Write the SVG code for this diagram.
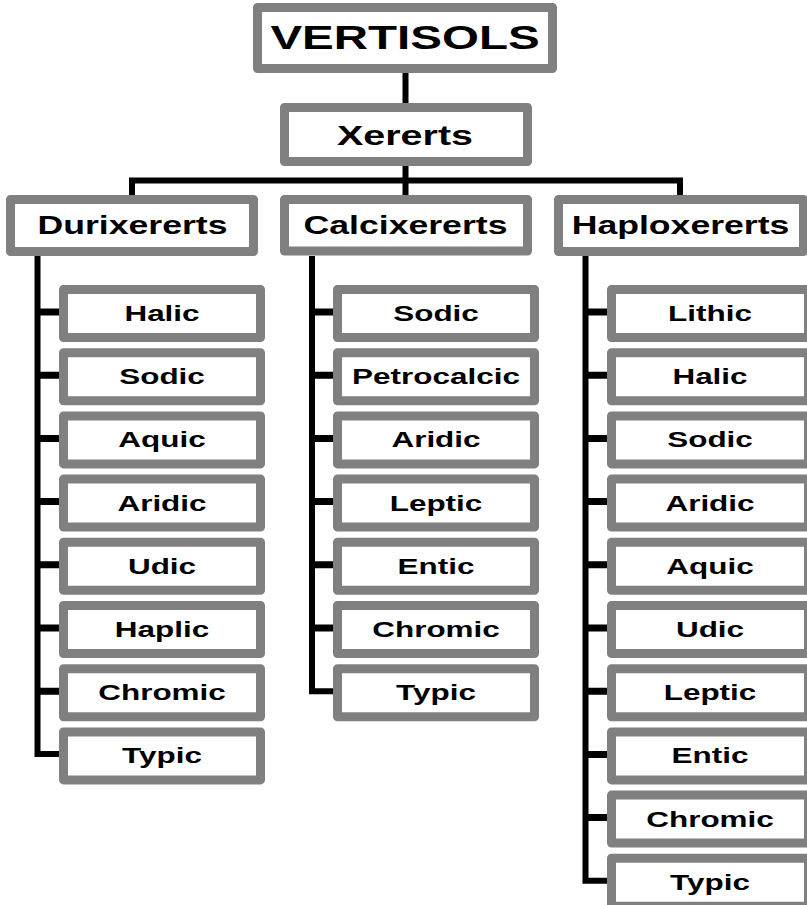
<svg xmlns="http://www.w3.org/2000/svg" width="807" height="905" viewBox="0 0 807 905">
<style>
.box{fill:#fff;stroke:#808080;stroke-width:9;stroke-linejoin:round}
.ln{fill:none;stroke:#000;stroke-width:6;stroke-linejoin:miter}
.st{fill:none;stroke:#000;stroke-width:7}
text{font-family:"Liberation Sans",Arial,sans-serif;font-weight:bold;fill:#000;text-anchor:middle}
.t0{font-size:33px}
.t1{font-size:28px}
.t2{font-size:26px}
.t3{font-size:22px}
</style>
<rect width="807" height="905" fill="#fff"/>
<g id="connectors">
<path class="ln" d="M405.5,73 V103"/>
<path class="ln" d="M405.5,166 V195"/>
<path class="ln" d="M132,195 V180.5 H680 V195"/>
<path class="ln" d="M37.5,256 V754 H59"/>
<path class="st" d="M37.5,312 H59 M37.5,375.2 H59 M37.5,438.4 H59 M37.5,501.6 H59 M37.5,564.8 H59 M37.5,628 H59 M37.5,691.2 H59"/>
<path class="ln" d="M312,256 V691.2 H333"/>
<path class="st" d="M312,312 H333 M312,375.2 H333 M312,438.4 H333 M312,501.6 H333 M312,564.8 H333 M312,628 H333"/>
<path class="ln" d="M585.5,256 V880.8 H607"/>
<path class="st" d="M585.5,312 H607 M585.5,375.2 H607 M585.5,438.4 H607 M585.5,501.6 H607 M585.5,564.8 H607 M585.5,628 H607 M585.5,691.2 H607 M585.5,754.4 H607 M585.5,817.6 H607"/>
</g>
<g id="vertisols"><rect class="box" x="257.5" y="7.5" width="295" height="61"/><text class="t0" transform="translate(405,48.5) scale(1.44,1)">VERTISOLS</text></g>
<g id="xererts"><rect class="box" x="284.5" y="107.5" width="243" height="54"/><text class="t1" transform="translate(405,145) scale(1.41,1)">Xererts</text></g>
<g id="durixererts"><rect class="box" x="10.5" y="199.5" width="243" height="52"/><text class="t2" transform="translate(132.5,234) scale(1.37,1)">Durixererts</text></g>
<g id="calcixererts"><rect class="box" x="284.5" y="199.5" width="243" height="51.5"/><text class="t2" transform="translate(405.5,234) scale(1.37,1)">Calcixererts</text></g>
<g id="haploxererts"><rect class="box" x="558.5" y="199.5" width="245" height="52"/><text class="t2" transform="translate(680.5,234) scale(1.37,1)">Haploxererts</text></g>

<g id="d-halic"><rect class="box" x="63.5" y="289.5" width="197" height="48"/><text class="t3" transform="translate(162,321) scale(1.43,1)">Halic</text></g>
<g id="d-sodic"><rect class="box" x="63.5" y="352.7" width="197" height="48"/><text class="t3" transform="translate(162,384.2) scale(1.43,1)">Sodic</text></g>
<g id="d-aquic"><rect class="box" x="63.5" y="415.9" width="197" height="48"/><text class="t3" transform="translate(162,447.4) scale(1.43,1)">Aquic</text></g>
<g id="d-aridic"><rect class="box" x="63.5" y="479.1" width="197" height="48"/><text class="t3" transform="translate(162,510.6) scale(1.43,1)">Aridic</text></g>
<g id="d-udic"><rect class="box" x="63.5" y="542.3" width="197" height="48"/><text class="t3" transform="translate(162,573.8) scale(1.43,1)">Udic</text></g>
<g id="d-haplic"><rect class="box" x="63.5" y="605.5" width="197" height="48"/><text class="t3" transform="translate(162,637) scale(1.43,1)">Haplic</text></g>
<g id="d-chromic"><rect class="box" x="63.5" y="668.7" width="197" height="48"/><text class="t3" transform="translate(162,700.2) scale(1.43,1)">Chromic</text></g>
<g id="d-typic"><rect class="box" x="63.5" y="731.9" width="197" height="48"/><text class="t3" transform="translate(162,763.4) scale(1.43,1)">Typic</text></g>

<g id="c-sodic"><rect class="box" x="337.5" y="289.5" width="197" height="48"/><text class="t3" transform="translate(436,321) scale(1.43,1)">Sodic</text></g>
<g id="c-petrocalcic"><rect class="box" x="337.5" y="352.7" width="197" height="48"/><text class="t3" transform="translate(436,384.2) scale(1.43,1)">Petrocalcic</text></g>
<g id="c-aridic"><rect class="box" x="337.5" y="415.9" width="197" height="48"/><text class="t3" transform="translate(436,447.4) scale(1.43,1)">Aridic</text></g>
<g id="c-leptic"><rect class="box" x="337.5" y="479.1" width="197" height="48"/><text class="t3" transform="translate(436,510.6) scale(1.43,1)">Leptic</text></g>
<g id="c-entic"><rect class="box" x="337.5" y="542.3" width="197" height="48"/><text class="t3" transform="translate(436,573.8) scale(1.43,1)">Entic</text></g>
<g id="c-chromic"><rect class="box" x="337.5" y="605.5" width="197" height="48"/><text class="t3" transform="translate(436,637) scale(1.43,1)">Chromic</text></g>
<g id="c-typic"><rect class="box" x="337.5" y="668.7" width="197" height="48"/><text class="t3" transform="translate(436,700.2) scale(1.43,1)">Typic</text></g>

<g id="h-lithic"><rect class="box" x="611.5" y="289.5" width="197" height="48"/><text class="t3" transform="translate(710,321) scale(1.43,1)">Lithic</text></g>
<g id="h-halic"><rect class="box" x="611.5" y="352.7" width="197" height="48"/><text class="t3" transform="translate(710,384.2) scale(1.43,1)">Halic</text></g>
<g id="h-sodic"><rect class="box" x="611.5" y="415.9" width="197" height="48"/><text class="t3" transform="translate(710,447.4) scale(1.43,1)">Sodic</text></g>
<g id="h-aridic"><rect class="box" x="611.5" y="479.1" width="197" height="48"/><text class="t3" transform="translate(710,510.6) scale(1.43,1)">Aridic</text></g>
<g id="h-aquic"><rect class="box" x="611.5" y="542.3" width="197" height="48"/><text class="t3" transform="translate(710,573.8) scale(1.43,1)">Aquic</text></g>
<g id="h-udic"><rect class="box" x="611.5" y="605.5" width="197" height="48"/><text class="t3" transform="translate(710,637) scale(1.43,1)">Udic</text></g>
<g id="h-leptic"><rect class="box" x="611.5" y="668.7" width="197" height="48"/><text class="t3" transform="translate(710,700.2) scale(1.43,1)">Leptic</text></g>
<g id="h-entic"><rect class="box" x="611.5" y="731.9" width="197" height="48"/><text class="t3" transform="translate(710,763.4) scale(1.43,1)">Entic</text></g>
<g id="h-chromic"><rect class="box" x="611.5" y="795.1" width="197" height="48"/><text class="t3" transform="translate(710,826.6) scale(1.43,1)">Chromic</text></g>
<g id="h-typic"><rect class="box" x="611.5" y="858.3" width="197" height="48"/><text class="t3" transform="translate(710,889.8) scale(1.43,1)">Typic</text></g>
</svg>
